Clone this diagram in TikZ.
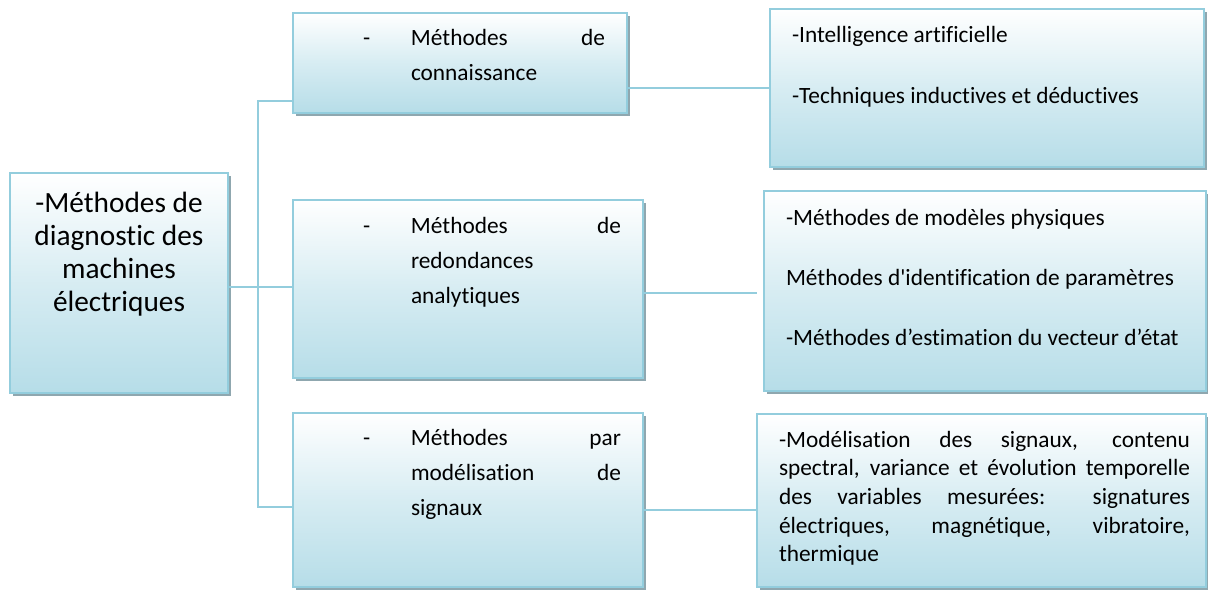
\documentclass[tikz,border=0pt]{standalone}
\usepackage{fontspec}
\setmainfont{Carlito}[Ligatures={NoCommon}]
\newfontfamily\straightfont{Carlito}[Ligatures={TeXOff,NoCommon}]
\usetikzlibrary{shadows}
\definecolor{bordc}{HTML}{93CDDD}
\definecolor{fillc}{HTML}{B6DDE8}
\definecolor{shadc}{HTML}{8FA7AF}
\definecolor{linec}{HTML}{93CDDD}
\tikzset{
  diagbox/.style={draw=bordc, line width=1.5pt, top color=white, bottom color=fillc,
    middle color=fillc!55, inner sep=0pt, outer sep=0pt, anchor=north west,
    general shadow={fill=shadc, shadow xshift=2.5pt, shadow yshift=-2.5pt}},
  conn/.style={draw=linec, line width=1.5pt}
}
\newcommand\midfont{\fontsize{17.5}{26.25}\selectfont}
\begin{document}
\begin{tikzpicture}[x=0.75pt,y=-0.75pt]
\useasboundingbox (0,0) rectangle (1208,590);
% left box
\node[diagbox] (L) at (10,173) {\parbox[c][165pt][t]{163.5pt}{\fontsize{22}{24.75}\selectfont\centering
  \rule{0pt}{29.25pt}-Méthodes de\\diagnostic des\\machines\\électriques}};
% middle boxes
\node[diagbox] (B1) at (293,13) {\parbox[c][75pt][t]{250.5pt}{\midfont
  \rule{0pt}{24pt}\hspace*{52.5pt}\makebox[36pt][l]{-}\makebox[145.5pt][s]{Méthodes\hfill de}\\
  \hspace*{88.5pt}connaissance}};
\node[diagbox] (B2) at (293,200) {\parbox[c][133.5pt][t]{262.5pt}{\midfont
  \rule{0pt}{24.75pt}\hspace*{52.5pt}\makebox[36pt][l]{-}\makebox[157.5pt][s]{Méthodes\hfill de}\\
  \hspace*{88.5pt}redondances\\
  \hspace*{88.5pt}analytiques}};
\node[diagbox] (B3) at (293,413) {\parbox[c][130.5pt][t]{262.5pt}{\midfont
  \rule{0pt}{24pt}\hspace*{52.5pt}\makebox[36pt][l]{-}\makebox[157.5pt][s]{Méthodes\hfill par}\\
  \hspace*{88.5pt}\makebox[157.5pt][s]{modélisation\hfill de}\\
  \hspace*{88.5pt}signaux}};
% right boxes
\node[diagbox] (R1) at (770,9) {\parbox[c][118.5pt][t]{325.5pt}{\fontsize{17.5}{45.75}\selectfont
  \rule{0pt}{24.75pt}\hspace*{16.5pt}-Intelligence artificielle\\
  \hspace*{16.5pt}-Techniques inductives et déductives}};
\node[diagbox] (R2) at (764,191) {\parbox[c][150pt][t]{331.5pt}{\fontsize{17.5}{45}\selectfont
  \rule{0pt}{25.5pt}\hspace*{16.5pt}-Méthodes de modèles physiques\\
  \hspace*{16.5pt}Méthodes d{\straightfont'}identification de paramètres\\
  \hspace*{16.5pt}-Méthodes d’estimation du vecteur d’état}};
\node[diagbox] (R3) at (757,414) {\parbox[c][129.75pt][t]{336.75pt}{\fontsize{17.5}{21.5}\selectfont
  \hspace*{16.5pt}\parbox[t]{308.25pt}{\rule{0pt}{24.75pt}-Modélisation des signaux, contenu\linebreak
  spectral, variance et évolution temporelle\linebreak
  des variables mesurées: signatures\linebreak
  électriques, magnétique, vibratoire,\linebreak
  thermique}}};
% trunk and connectors
\coordinate (T1) at (258,101);
\coordinate (T3) at (258,507);
\draw[conn] (B1.west |- T1) -- (T1) -- (T3) -- (B3.west |- T3);
\draw[conn] (L.east |- 0,287) -- (B2.west |- 0,287);
\draw[conn] (B1.east |- R1.west) -- (R1.west);
\draw[conn] (B2.east |- 0,293) -- (757,293) coordinate (E2);
\draw[conn] (B3.east |- 0,510) -- (R3.west |- 0,510);
\end{tikzpicture}
\end{document}
